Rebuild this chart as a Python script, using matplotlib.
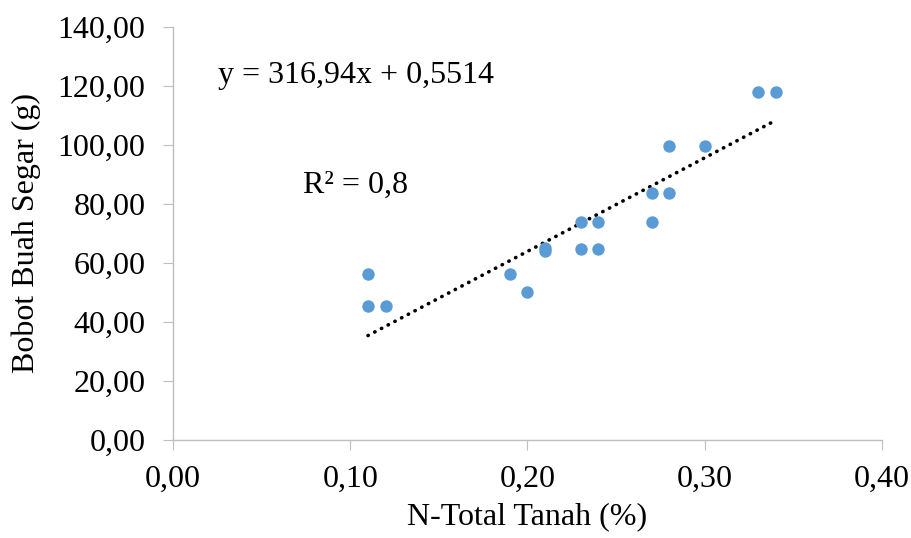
import numpy as np
import matplotlib.pyplot as plt

plt.rcParams["font.family"] = ["Liberation Serif", "DejaVu Serif"]

# data
n_total = [0.11, 0.11, 0.12, 0.19, 0.20, 0.21, 0.21, 0.23, 0.23, 0.24, 0.24,
           0.27, 0.27, 0.28, 0.28, 0.30, 0.33, 0.34]
bobot = [56.3, 45.3, 45.3, 56.3, 50.2, 65.0, 64.0, 74.0, 64.8, 74.0, 64.8,
         83.6, 74.0, 99.7, 83.6, 99.7, 117.9, 117.9]

slope = 316.94
intercept = 0.5514

x_ticks = [0.0, 0.1, 0.2, 0.3, 0.4]
x_labels = ["0,00", "0,10", "0,20", "0,30", "0,40"]
y_ticks = [0, 20, 40, 60, 80, 100, 120, 140]
y_labels = ["0,00", "20,00", "40,00", "60,00", "80,00", "100,00", "120,00", "140,00"]

fig = plt.figure(figsize=(9.11, 5.38), dpi=100)
ax = fig.add_axes([0.190, 0.182, 0.778, 0.768])

ax.scatter(n_total, bobot, s=80, color="#5B9BD5", zorder=3, linewidths=0)

# linear trendline over the data range
xs = np.array([min(n_total), max(n_total)])
ax.plot(xs, slope * xs + intercept, color="black", linewidth=2.6,
        linestyle=(0, (0.1, 2.0)), dash_capstyle="round", zorder=2)

ax.set_xlim(0, 0.4)
ax.set_ylim(0, 140)
ax.set_xticks(x_ticks)
ax.set_xticklabels(x_labels)
ax.set_yticks(y_ticks)
ax.set_yticklabels(y_labels)

for side in ["top", "right"]:
    ax.spines[side].set_visible(False)
for side in ["left", "bottom"]:
    ax.spines[side].set_color("#BFBFBF")
    ax.spines[side].set_linewidth(1.0)
ax.tick_params(axis="both", colors="#BFBFBF", labelcolor="black",
               labelsize=23, length=7, direction="out")
ax.tick_params(axis="y", pad=13)
ax.tick_params(axis="x", pad=11)

ax.set_xlabel("N-Total Tanah (%)", fontsize=23, labelpad=6)
ax.set_ylabel("Bobot Buah Segar (g)", fontsize=23, labelpad=12)

ax.text(0.0255, 123.7, "y = 316,94x + 0,5514", fontsize=23, va="center", ha="left")
ax.text(0.0735, 86.4, "R² = 0,8", fontsize=23, va="center", ha="left")

plt.savefig("out.png", dpi=100)
plt.close()
